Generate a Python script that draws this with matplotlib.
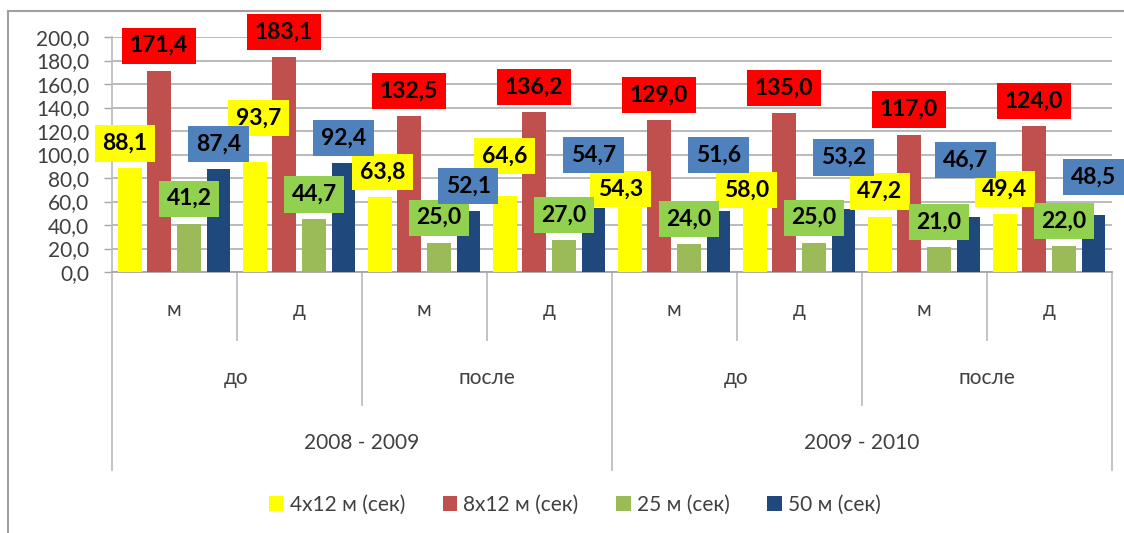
import matplotlib
matplotlib.use("Agg")
import matplotlib.pyplot as plt
from matplotlib.transforms import blended_transform_factory
from matplotlib.patches import Patch
from matplotlib.lines import Line2D

plt.rcParams['font.family'] = ['Lato', 'Open Sans', 'DejaVu Sans']

# data
years = ["2008 - 2009", "2009 - 2010"]
phases = ["до", "после"]
sexes = ["м", "д"]
series_names = ["4x12 м (сек)", "8x12 м (сек)", "25 м (сек)", "50 м (сек)"]
relay_4x12 = [88.1, 93.7, 63.8, 64.6, 54.3, 58.0, 47.2, 49.4]
relay_8x12 = [171.4, 183.1, 132.5, 136.2, 129.0, 135.0, 117.0, 124.0]
swim_25 = [41.2, 44.7, 25.0, 27.0, 24.0, 25.0, 21.0, 22.0]
swim_50 = [87.4, 92.4, 52.1, 54.7, 51.6, 53.2, 46.7, 48.5]
series = [relay_4x12, relay_8x12, swim_25, swim_50]

bar_colors = ["#FFFF00", "#C0504D", "#9BBB59", "#1F497D"]
box_colors = ["#FFFF00", "#FF0000", "#92D050", "#4F81BD"]

# label nudges (pixels): dx, dy above bar top; default (0, 25)
nudges = {
    (0, 0): (-5, 25), (0, 1): (4, 44), (0, 2): (3, 25), (0, 3): (0, 40),
    (0, 4): (-9, 19), (0, 5): (-8, 14),
    (3, 3): (0, 53), (3, 4): (0, 56), (3, 5): (0, 52), (3, 6): (-3, 57),
    (3, 7): (0, 38),
}

fig = plt.figure(figsize=(11.24, 5.33), dpi=100)
ax = fig.add_axes([111.5 / 1124, 261 / 533, 1000 / 1124, 235 / 533])

n = len(relay_4x12)
offsets = [-0.355, -0.12, 0.12, 0.355]
width = 0.19
for s, vals in enumerate(series):
    xs = [i + offsets[s] for i in range(n)]
    ax.bar(xs, vals, width=width, color=bar_colors[s], zorder=3)
    for i, v in enumerate(vals):
        dx, dy = nudges.get((s, i), (0, 25))
        ax.annotate(f"{v:.1f}".replace(".", ","), (xs[i], v),
                    xytext=(dx, dy), textcoords="offset pixels",
                    ha="center", va="center", fontsize=16.5, fontweight="bold",
                    color="black", zorder=5,
                    bbox=dict(boxstyle="square,pad=0.33", fc=box_colors[s], ec="none"))

ax.set_xlim(-0.5, n - 0.5)
ax.set_ylim(0, 200)
ax.set_yticks(range(0, 201, 20))
ax.set_yticklabels([f"{t:.1f}".replace(".", ",") for t in range(0, 201, 20)])
ax.tick_params(axis="y", length=6, width=1, color="#A6A6A6", pad=10,
               labelsize=15, labelcolor="#404040")
ax.set_xticks([])
ax.grid(axis="y", color="#B4B4B4", lw=1.3, zorder=0)
ax.set_axisbelow(True)
for sp in ["top", "right"]:
    ax.spines[sp].set_visible(False)
ax.spines["left"].set_color("#BEBEBE")
ax.spines["bottom"].set_color("#A6A6A6")
ax.spines["left"].set_linewidth(1.3)
ax.spines["bottom"].set_linewidth(1.3)

# multi-level category axis
tr = blended_transform_factory(ax.transData, ax.transAxes)
line_kw = dict(color="#BEBEBE", lw=1.3, transform=tr, clip_on=False)
for b in range(n + 1):
    xb = b - 0.5
    if b % 4 == 0:
        depth = -0.843
    elif b % 2 == 0:
        depth = -0.566
    else:
        depth = -0.289
    ax.add_line(Line2D([xb, xb], [0, depth], **line_kw))

for i in range(n):
    ax.text(i, -0.162, sexes[i % 2], transform=tr, ha="center", va="center",
            fontsize=15, color="#404040")
for j in range(4):
    ax.text(2 * j + 0.5, -0.451, phases[j % 2], transform=tr, ha="center",
            va="center", fontsize=15, color="#404040")
for k in range(2):
    ax.text(4 * k + 1.5, -0.728, years[k], transform=tr, ha="center",
            va="center", fontsize=15, color="#404040")

handles = [Patch(facecolor=c, edgecolor="none") for c in bar_colors]
fig.legend(handles, series_names, loc="center", bbox_to_anchor=(575 / 1124, 28 / 533),
           ncol=4, frameon=False, fontsize=15, labelcolor="#404040",
           handlelength=0.7, handleheight=0.7, handletextpad=0.3, columnspacing=1.8)

# chart frame (only left and top visible)
fig.add_artist(Line2D([8 / 1124, 8 / 1124], [0, 522 / 533], color="#A0A0A0", lw=1.5))
fig.add_artist(Line2D([8 / 1124, 1], [522 / 533, 522 / 533], color="#A0A0A0", lw=1.5))

fig.savefig("out.png", dpi=100)
